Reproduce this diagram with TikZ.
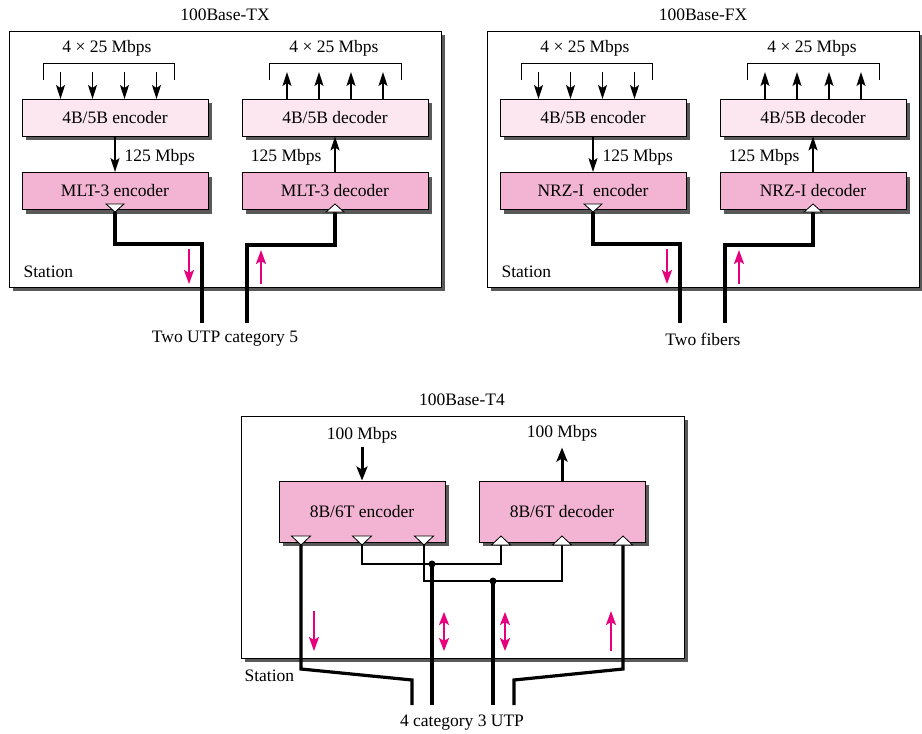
\documentclass[tikz,border=0pt]{standalone}
\usepackage{fontspec}
\setmainfont{Liberation Serif}
\usetikzlibrary{arrows.meta, shadows}
\definecolor{pinklight}{RGB}{252,231,241}
\definecolor{pinkdark}{RGB}{243,180,211}
\definecolor{flow}{RGB}{230,0,126}

\begin{document}
\begin{tikzpicture}[x=1pt,y=-1pt]
\tikzset{font=\fontsize{17.5}{20}\selectfont}
\tikzset{shade/.style={general shadow={fill=black!65, shadow xshift=4pt, shadow yshift=-4pt}}}
\tikzset{frame/.style={draw, fill=white, line width=1pt, shade, inner sep=0pt}}
\tikzset{box/.style={draw, line width=0.9pt, shade, inner sep=0pt, minimum width=186pt, minimum height=37pt}}
\tikzset{arr/.style={line width=1.5pt, -{Stealth[length=14pt, width=9pt, inset=3pt]}}}
\tikzset{fat/.style={line width=3pt, -{Stealth[length=14pt, width=11pt, inset=3pt]}}}
\tikzset{cable/.style={line width=3.2pt}}
\tikzset{wire/.style={line width=1.2pt}}
\tikzset{tri/.style={draw, fill=white, line width=0.8pt, line join=miter}}
\tikzset{dir/.style={draw=flow, line width=2.2pt, -{Stealth[length=14pt, width=10pt, inset=3pt]}}}
\tikzset{dirboth/.style={draw=flow, line width=2.2pt, {Stealth[length=13pt, width=10pt, inset=3pt]}-{Stealth[length=13pt, width=10pt, inset=3pt]}}}
\useasboundingbox (0,0) rectangle (922,734);

\foreach \dx/\n/\enc/\dec/\cab in {0/TX/MLT-3 encoder/MLT-3 decoder/Two UTP category 5,
                                     478/FX/NRZ-I\ \ encoder/NRZ-I decoder/Two fibers}{
\begin{scope}[xshift=\dx pt]
\node (ttl\n) at (225,15) {100Base-\n};
\node[frame, minimum width=432pt, minimum height=256pt] (st\n) at (225,159) {};
\node[box, fill=pinklight] (enc\n) at (115,117.5) {4B/5B encoder};
\node[box, fill=pinkdark] (lenc\n) at (115,191) {\enc};
\node[box, fill=pinklight] (dec\n) at (335,117.5) {4B/5B decoder};
\node[box, fill=pinkdark] (ldec\n) at (335,191) {\dec};
\node (rin\n) at (107,48) {4 × 25 Mbps};
\node (rout\n) at (334,48) {4 × 25 Mbps};
\coordinate (in\n) at (108.5,63);
\coordinate (out\n) at (335,63);
\draw[line width=0.7pt] (in\n) ++(-65.5,17) |- ++(131,-17) -- ++(0,17);
\draw[line width=0.7pt] (out\n) ++(-66,17) |- ++(132,-17) -- ++(0,17);
\foreach \o in {-48,-16,16,48}{
  \draw[arr] (in\n) ++(\o,9) -- ++(0,27);
  \draw[arr] (out\n) ++(\o,36) -- ++(0,-27);
}
\draw[arr] (enc\n.south) -- (lenc\n.north);
\draw[arr] (ldec\n.north) -- (dec\n.south);
\node[anchor=west] (mid\n) at (121,157) {125 Mbps};
\node[anchor=east] (mod\n) at (325,157) {125 Mbps};
\coordinate (o\n) at (115,212);
\coordinate (i\n) at (335,212);
\coordinate (dn\n) at (202,323);
\coordinate (up\n) at (247,323);
\draw[cable] (o\n) -- ++(0,32) -| (dn\n);
\draw[cable] (i\n) -- ++(0,33) -| (up\n);
\draw[tri] (o\n) -- ++(-9,-8) -- ++(18,0) -- cycle;
\draw[tri] (i\n) ++(-9,0) -- ++(18,0) -- ++(-9,-8) -- cycle;
\draw[dir] (189,249) -- (189,284);
\draw[dir] (261,284) -- (261,250);
\node[anchor=west] (sta\n) at (20,272) {Station};
\node (cab\n) at (225,339) {\cab};
\end{scope}
}

\node (ttlT4) at (462,400) {100Base-T4};
\node[frame, minimum width=443pt, minimum height=242pt] (stT4) at (462.5,537) {};
\node[box, fill=pinkdark, minimum width=166pt, minimum height=61pt] (enc8) at (362,511.5) {8B/6T encoder};
\node[box, fill=pinkdark, minimum width=166pt, minimum height=61pt] (dec8) at (562,511.5) {8B/6T decoder};
\node (rin8) at (362,435) {100 Mbps};
\node (rout8) at (562,433) {100 Mbps};
\draw[fat] (enc8.north) ++(0,-34) -- (enc8.north);
\draw[fat] (dec8.north) -- ++(0,-33);
\coordinate (e1) at (301,545);
\coordinate (e2) at (362,545);
\coordinate (e3) at (424,545);
\coordinate (d1) at (501,545);
\coordinate (d2) at (562,545);
\coordinate (d3) at (623,545);
\coordinate (j1) at (432,564);
\coordinate (j2) at (493,581);
\coordinate (p1) at (412,705);
\coordinate (p2) at (432,705);
\coordinate (p3) at (493,705);
\coordinate (p4) at (514,705);
\draw[wire] (e2) -- ++(0,19) -| (d1);
\draw[wire] (e3) -- ++(0,36) -| (d2);
\fill (j1) circle[radius=3.5pt];
\fill (j2) circle[radius=3.5pt];
\draw[cable] (e1) -- ++(0,124) -- ++(111,11) -- (p1);
\draw[cable] (j1) -- (p2);
\draw[cable] (j2) -- (p3);
\draw[cable] (d3) -- ++(0,124) -- ++(-109,11) -- (p4);
\foreach \c in {e1,e2,e3} \draw[tri] (\c) -- ++(-9.5,-9) -- ++(19,0) -- cycle;
\foreach \c in {d1,d2,d3} \draw[tri] (\c) ++(-9.5,0) -- ++(19,0) -- ++(-9.5,-9) -- cycle;
\draw[dir] (314,611) -- (314,651);
\draw[dirboth] (444,612) -- (444,651);
\draw[dirboth] (505,612) -- (505,651);
\draw[dir] (611,651) -- (611,611);
\node[anchor=west] (staT4) at (241,676) {Station};
\node (cabT4) at (462,723) {4 category 3 UTP};
\end{tikzpicture}
\end{document}
